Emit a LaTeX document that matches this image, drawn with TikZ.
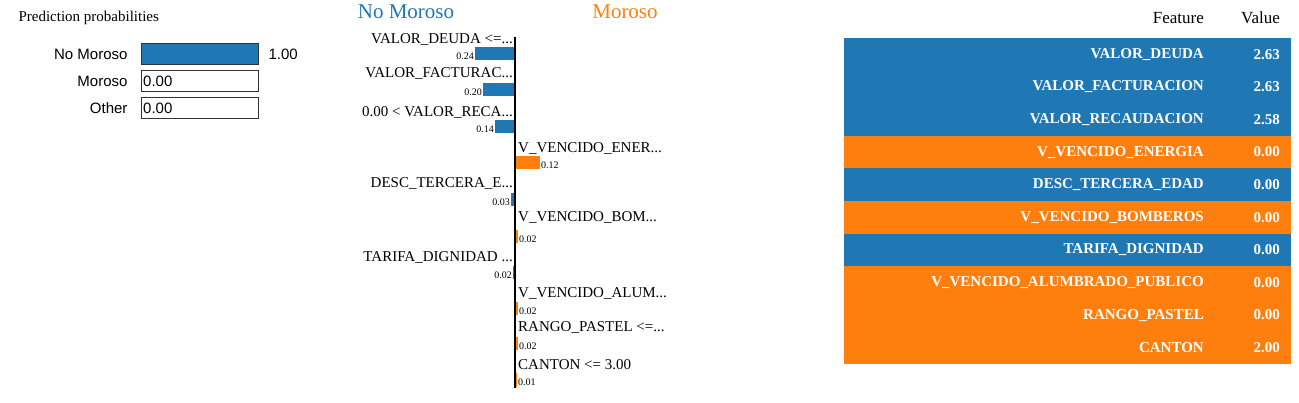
\documentclass[tikz,border=0pt]{standalone}
\usepackage{fontspec}
\setmainfont{Liberation Serif}
\setsansfont{Liberation Sans}
\usetikzlibrary{positioning}
\definecolor{noblue}{HTML}{1F77B4}
\definecolor{yesorange}{HTML}{FF7F0E}
\tikzset{
  probbox/.style={draw=black!80,line width=1pt,minimum width=117pt,minimum height=21pt,inner sep=0pt},
  problabel/.style={font=\sffamily\fontsize{15}{15}\selectfont,anchor=east},
  featlabel/.style={font=\fontsize{15}{15}\selectfont,inner sep=0pt},
  weight/.style={font=\fontsize{10}{10}\selectfont,inner sep=1pt},
  cell/.style={font=\bfseries\fontsize{15}{15}\selectfont,text=white,inner sep=0pt,anchor=east}
}
\begin{document}
\begin{tikzpicture}[x=1pt,y=-1pt]
  \useasboundingbox (0,0) rectangle (1299,403);
  % prediction probabilities
  \node[anchor=west,font=\fontsize{15}{15}\selectfont] (ptitle) at (15,18) {Prediction probabilities};
  \node[probbox,anchor=west,fill=noblue] (pno) at (141,54) {};
  \node[right=6pt of pno,font=\sffamily\fontsize{15}{15}\selectfont] (pnoval) {1.00};
  \node[problabel,left=10pt of pno] {No Moroso};
  \node[probbox,anchor=west] (pyes) at (141,81) {};
  \node[problabel,left=10pt of pyes] {Moroso};
  \node[anchor=west,font=\sffamily\fontsize{15}{15}\selectfont,inner sep=2pt] at (pyes.west) {0.00};
  \node[probbox,anchor=west] (pother) at (141,108) {};
  \node[problabel,left=10pt of pother] {Other};
  \node[anchor=west,font=\sffamily\fontsize{15}{15}\selectfont,inner sep=2pt] at (pother.west) {0.00};

  % explanation
  \node[text=noblue,font=\fontsize{21}{21}\selectfont] (tno) at (406,12) {No Moroso};
  \node[text=yesorange,font=\fontsize{21}{21}\selectfont] (tyes) at (625,12) {Moroso};
  \coordinate (axtop) at (515,37);
  \coordinate (axbot) at (515,388);
  % left side (No Moroso)
  \foreach \ly/\by/\w/\v/\t in {40/54/40/0.24/{VALOR\_DEUDA <=...},
                                74/90/32/0.20/{VALOR\_FACTURAC...},
                                112/127/20/0.14/{0.00 < VALOR\_RECA...},
                                184/200/4/0.03/{DESC\_TERCERA\_E...},
                                258/273/2/0.02/{TARIFA\_DIGNIDAD ...}}{
    \node[featlabel,anchor=east] at (513,\ly) {\t};
    \fill[noblue] (515-\w,\by-6.5) rectangle (515,\by+6.5);
    \node[weight,anchor=south east] at (515-\w,\by+7) {\v};
  }
  % right side (Moroso)
  \foreach \ly/\by/\w/\v/\t in {149/163/25/0.12/{V\_VENCIDO\_ENER...},
                                218/237/3/0.02/{V\_VENCIDO\_BOM...},
                                294/309/3/0.02/{V\_VENCIDO\_ALUM...},
                                328/344/3/0.02/{RANGO\_PASTEL <=...},
                                365/380/2/0.01/{CANTON <= 3.00}}{
    \node[featlabel,anchor=west] at (518,\ly) {\t};
    \fill[yesorange] (515,\by-6.5) rectangle (515+\w,\by+6.5);
    \node[weight,anchor=south west] at (515+\w,\by+7) {\v};
  }
  \draw[line width=2pt] (axtop) -- (axbot);

  % feature table
  \node[anchor=east,font=\fontsize{17}{17}\selectfont,inner sep=0pt] (hfeat) at (1204,18) {Feature};
  \node[anchor=east,font=\fontsize{17}{17}\selectfont,inner sep=0pt] (hval) at (1280,18) {Value};
  \foreach \i/\c/\f/\v in {0/noblue/VALOR\_DEUDA/2.63, 1/noblue/VALOR\_FACTURACION/2.63,
      2/noblue/VALOR\_RECAUDACION/2.58, 3/yesorange/V\_VENCIDO\_ENERGIA/0.00,
      4/noblue/DESC\_TERCERA\_EDAD/0.00, 5/yesorange/V\_VENCIDO\_BOMBEROS/0.00,
      6/noblue/TARIFA\_DIGNIDAD/0.00, 7/yesorange/V\_VENCIDO\_ALUMBRADO\_PUBLICO/0.00,
      8/yesorange/RANGO\_PASTEL/0.00, 9/yesorange/CANTON/2.00}{
    \fill[\c] (844,38+\i*32.6) rectangle (1291,38+\i*32.6+32.6);
    \node[cell] at (1204,54.3+\i*32.6) {\f};
    \node[cell] at (1280,54.3+\i*32.6) {\v};
  }
\end{tikzpicture}
\end{document}
